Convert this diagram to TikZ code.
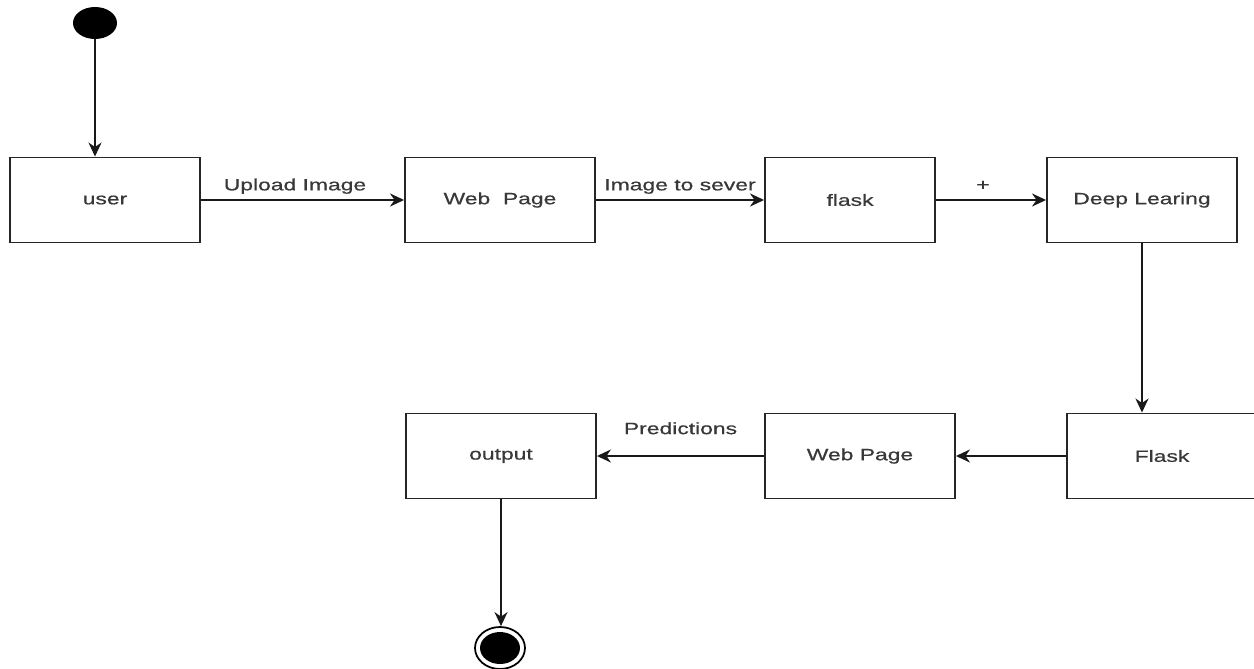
\documentclass[tikz,border=0pt]{standalone}
\usepackage{fontspec}
\setmainfont[FakeStretch=1.4, FakeBold=0.6]{Liberation Sans}
\usetikzlibrary{shapes.geometric}
\usetikzlibrary{arrows.meta}
\usetikzlibrary{calc}
\usepackage{xcolor}

\begin{document}
\begin{tikzpicture}[x=0.02cm, y=-0.02cm]
        % ================= 样式定义 =================
        \tikzset{
            % 状态框:白底黑边矩形
            sbox/.style={rectangle, draw=black!85, line width=1.1pt, fill=white, minimum width=3.8cm, minimum height=1.7cm, inner sep=0pt, font=\fontsize{9.3}{11}\selectfont, text=black!78},
            % 连线样式
            flow/.style={line width=1.1pt, black!90, -{Stealth[length=2.8mm, width=2.6mm, inset=0.9mm]}},
            % 连线标签
            elabel/.style={font=\fontsize{9.3}{11}\selectfont, text=black!78, inner sep=1pt}
        }

        \useasboundingbox (0,0) rectangle (1254,669);

        % ================= 起点与终点 =================
        \node[ellipse, fill=black, minimum width=0.88cm, minimum height=0.64cm, inner sep=0pt] (start) at (95,23) {};
        \node[ellipse, draw=black, line width=1pt, minimum width=1.0cm, minimum height=0.84cm, inner sep=0pt] (finish) at (500,648) {};
        \node[ellipse, fill=black, minimum width=0.8cm, minimum height=0.64cm, inner sep=0pt] (finishdot) at (500,648) {};

        % ================= 上排 =================
        \node[sbox] (user) at (105,200) {user};
        \node[sbox] (web1) at (500,200) {Web\ \ Page};
        \node[sbox, minimum width=3.4cm] (flask1) at (850,200) {flask};
        \node[sbox] (deep) at (1142,200) {Deep Learing};

        % ================= 下排 =================
        \node[sbox] (flask2) at (1162,456) {Flask};
        \node[sbox] (web2) at (860,456) {Web Page};
        \node[sbox] (output) at (501,456) {output};

        % ================= 连线 =================
        \draw[flow] (start) -- (start |- user.north);
        \draw[flow] (user) -- node[elabel, above=2pt, xshift=-0.15cm] {Upload Image} (web1);
        \draw[flow] (web1) -- node[elabel, above=2pt] {Image to sever} (flask1);
        \draw[flow] (flask1) -- node[elabel, above=4pt, xshift=-0.16cm] {+} (deep);
        \draw[flow] (deep.south) -- (deep.south |- flask2.north);
        \draw[flow] (flask2) -- (web2);
        \draw[flow] (web2) -- node[elabel, above=0.38cm] {Predictions} (output);
        \draw[flow] (output) -- (output.south |- finish.north);

    \end{tikzpicture}
\end{document}
